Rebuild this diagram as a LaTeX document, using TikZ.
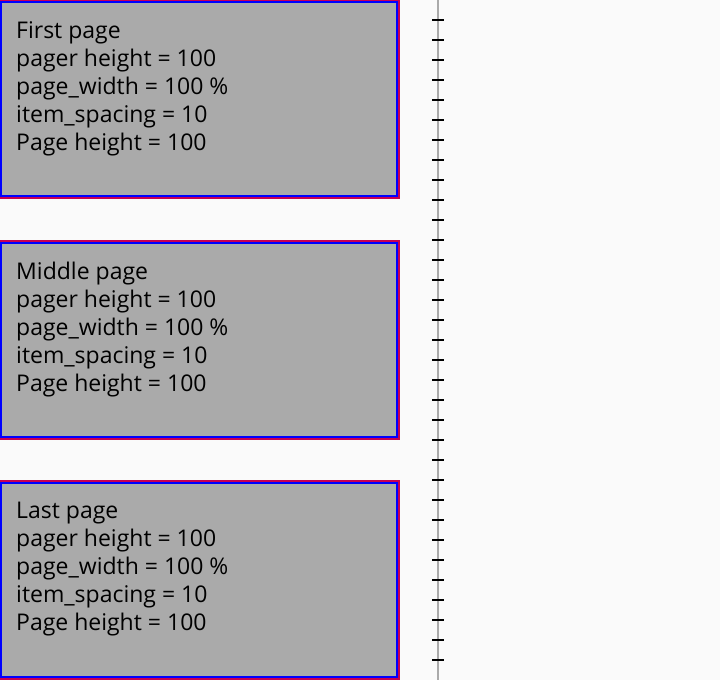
\documentclass[tikz,border=0pt]{standalone}
\usepackage{fontspec}
\setmainfont{Open Sans}
\usepackage{tikz}
\usetikzlibrary{positioning, calc}
\definecolor{pgBg}{RGB}{250,250,250}
\definecolor{pgFill}{RGB}{170,170,170}
\definecolor{pgRed}{RGB}{200,0,80}
\definecolor{pgBlue}{RGB}{0,0,255}
\definecolor{pgRule}{RGB}{170,170,170}
\tikzset{pagebox/.style={fill=pgFill, draw=pgBlue, line width=2pt, outer sep=0pt,
  minimum width=396pt, minimum height=194pt, inner sep=0pt,
  preaction={draw=pgRed, line width=6pt}},
  pagetext/.style={inner sep=0pt, align=left, font=\fontsize{23pt}{28pt}\selectfont},
  ruletick/.style={line width=2pt, black}}

\begin{document}
\begin{tikzpicture}[x=1pt, y=-1pt]
  \fill[pgBg] (0,0) rectangle (720,680);
  \useasboundingbox (0,0) rectangle (720,680);
  \node[pagebox] (first) at (199,99) {};
  \node[pagebox] (middle) at (199,339.5) {};
  \node[pagebox] (last) at (199,579.5) {};
  \node[pagetext, below right=19pt and 15pt of first.north west] (firsttxt)
    {First page\\pager height = 100\\page\_width = 100 \%\\item\_spacing = 10\\Page height = 100};
  \node[pagetext, below right=19pt and 15pt of middle.north west] (middletxt)
    {Middle page\\pager height = 100\\page\_width = 100 \%\\item\_spacing = 10\\Page height = 100};
  \node[pagetext, below right=19pt and 15pt of last.north west] (lasttxt)
    {Last page\\pager height = 100\\page\_width = 100 \%\\item\_spacing = 10\\Page height = 100};
  % ruler
  \coordinate (rtop) at (438,0);
  \coordinate (rbot) at (438,680);
  \draw[pgRule, line width=2pt] (rtop) -- (rbot);
  \foreach \k in {1,...,33}
    \draw[ruletick] ($(rtop)+(-6,20*\k)$) -- ++(12,0);
\end{tikzpicture}
\end{document}
